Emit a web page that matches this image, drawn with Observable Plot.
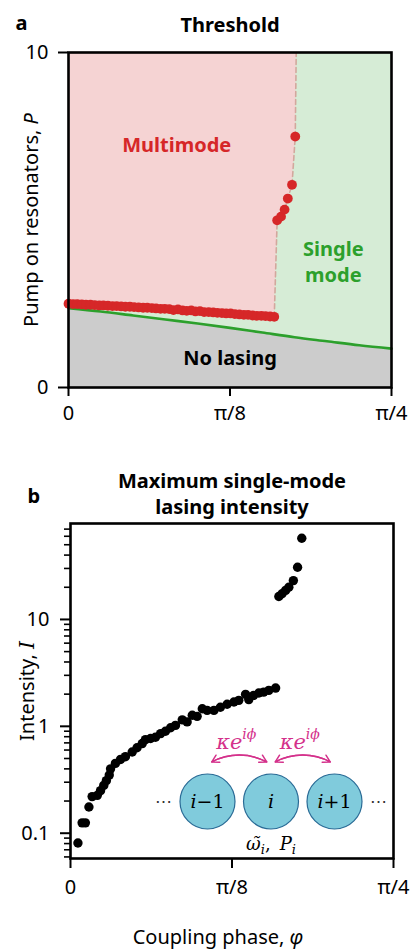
<!DOCTYPE html>
<html><head><meta charset="utf-8">
<script src="https://cdn.jsdelivr.net/npm/d3@7"></script>
<script src="https://cdn.jsdelivr.net/npm/@observablehq/plot@0.6"></script>
<style>
html,body{margin:0;padding:0;background:#fff;overflow:hidden;}
#wrap{position:relative;width:414px;height:950px;overflow:hidden;}
.abs{position:absolute;left:0;top:0;}
</style></head><body>
<div id="wrap">
  <div id="top" class="abs"></div>
  <div id="bottom" class="abs" style="top:450px"></div>
  <div id="inset" class="abs" style="left:140px;top:720px"></div>
</div>
<script>
// ---- Data (φ is expressed in units of π/4) ----
const xTickValues = [0, 0.5, 1];
const xTickLabels = ["0", "π/8", "π/4"];
const topYTicks = [0, 10];
const bottomYTicks = [0.1, 1, 10];
const bottomYTickLabels = ["0.1", "1", "10"];
const minorYTicks = [0.06, 0.07, 0.08, 0.09, 0.2, 0.3, 0.4, 0.5, 0.6, 0.7, 0.8, 0.9, 2, 3, 4, 5, 6, 7, 8, 9, 20, 30, 40, 50, 60, 70];

// lasing threshold (green line)
const thresholdPhi = [0, 0.1, 0.2, 0.3, 0.4, 0.5, 0.6, 0.7, 0.8, 0.9, 1.0];
const thresholdP   = [2.37, 2.27, 2.15, 2.03, 1.91, 1.78, 1.64, 1.50, 1.38, 1.26, 1.16];

// multimode threshold (red dots)
const multiPhi = [0.000,0.014,0.027,0.041,0.054,0.068,0.081,0.095,0.108,0.122,0.136,0.149,0.163,0.176,0.190,0.203,0.217,0.231,0.244,0.258,0.271,0.285,0.298,0.312,0.325,0.339,0.353,0.366,0.380,0.393,0.407,0.420,0.434,0.448,0.461,0.475,0.488,0.502,0.515,0.529,0.543,0.556,0.570,0.583,0.597,0.610,0.624,0.637,
                  0.646,0.658,0.669,0.679,0.692,0.702];
const multiP   = [2.50,2.49,2.49,2.48,2.47,2.47,2.46,2.45,2.45,2.44,2.43,2.43,2.42,2.41,2.41,2.40,2.39,2.38,2.38,2.37,2.36,2.35,2.35,2.34,2.31,2.33,2.30,2.29,2.30,2.27,2.28,2.25,2.25,2.24,2.23,2.22,2.21,2.21,2.19,2.18,2.17,2.17,2.15,2.14,2.14,2.13,2.12,2.11,
                  4.99,5.10,5.31,5.64,6.05,7.49];
// top end of the multimode / single-mode boundary
const boundaryTopPhi = 0.705;
const boundaryTopP = 10;

// maximum single-mode lasing intensity (black dots)
const intensityPhi = [0.023,0.036,0.046,0.057,0.067,0.083,0.093,0.103,0.111,0.120,0.124,0.139,0.155,0.170,0.191,0.206,0.222,0.232,0.248,0.263,0.279,0.294,0.310,0.325,0.346,0.361,0.377,0.392,0.408,0.423,0.444,0.464,0.485,0.506,0.521,0.542,0.552,0.567,0.583,0.598,0.614,0.635,
                      0.645,0.655,0.666,0.676,0.690,0.703,0.716];
const intensityI   = [0.081,0.125,0.125,0.176,0.22,0.226,0.25,0.28,0.31,0.35,0.40,0.45,0.49,0.52,0.575,0.63,0.69,0.75,0.77,0.79,0.855,0.90,0.97,1.02,1.15,1.10,1.27,1.24,1.46,1.41,1.41,1.51,1.61,1.69,1.75,1.99,1.78,1.95,2.05,2.09,2.17,2.28,
                      16.4,17.4,18.7,20.0,23.1,30.8,57.5];

// inset diagram
const resonators = ["i−1", "i", "i+1"];

// ---- tables built from the arrays ----
const threshold = thresholdPhi.map((p, i) => ({phi: p, P: thresholdP[i]}));
const multi = multiPhi.map((p, i) => ({phi: p, P: multiP[i]}));
const pinkEdge = [...multi, {phi: boundaryTopPhi, P: boundaryTopP}];
const lastLow = multiPhi.findIndex((p, i) => i > 0 && multiP[i] > multiP[i - 1] + 1) - 1;
const boundary = pinkEdge.slice(lastLow);
const intensity = intensityPhi.map((p, i) => ({phi: p, I: intensityI[i]}));
const couplings = resonators.slice(1).map((_, i) => ({from: i, to: i + 1}));

const PINK = "#f5d3d3", GREENBG = "#d6ecd6", GRAY = "#cccccc";
const RED = "#d62728", GREEN = "#2ca02c", MAGENTA = "#d4318b";
const font = '"Noto Sans", sans-serif';
const mathFont = '"DejaVu Serif", serif';

// rewrite plain texts into styled tspans (italics, sub/superscripts)
function rich(svg, matches, builder) {
  d3.select(svg).selectAll("text").each(function() {
    const t = d3.select(this);
    if (this.querySelector("tspan")) return;
    const s = this.textContent;
    if (!matches.includes(s)) return;
    t.text(null);
    builder(t, s);
  });
}

// ---- Panel a ----
const topPlot = Plot.plot({
  width: 414, height: 430,
  marginTop: 52, marginBottom: 43, marginLeft: 68, marginRight: 23,
  style: {fontFamily: font, fontSize: "20px", background: "transparent", overflow: "visible"},
  x: {domain: [0, 1]},
  y: {domain: [0, 10]},
  marks: [
    Plot.frame({fill: GREENBG}),
    Plot.areaY(threshold, {x: "phi", y: "P", fill: GRAY}),
    Plot.areaY(pinkEdge, {x: "phi", y1: "P", y2: boundaryTopP, fill: PINK}),
    Plot.line(boundary, {x: "phi", y: "P", stroke: "#d3a79d", strokeWidth: 1.6, strokeDasharray: "5,3"}),
    Plot.line(threshold, {x: "phi", y: "P", stroke: GREEN, strokeWidth: 2.6, curve: "monotone-x"}),
    Plot.dot(multi, {x: "phi", y: "P", r: 4.9, fill: RED}),
    Plot.text(["Multimode"], {x: 0.335, y: 7.22, text: d => d, fill: RED, fontWeight: "bold", fontSize: 20}),
    Plot.text(["Single\nmode"], {x: 0.82, y: 3.8, text: d => d, fill: GREEN, fontWeight: "bold", fontSize: 20, lineHeight: 1.3}),
    Plot.text(["No lasing"], {x: 0.5, y: 0.87, text: d => d, fill: "black", fontWeight: "bold", fontSize: 20}),
    Plot.frame({stroke: "black", strokeWidth: 2.6}),
    Plot.axisX({ticks: xTickValues, tickFormat: d => xTickLabels[xTickValues.indexOf(d)], tickSize: 9, tickPadding: 9, strokeWidth: 2, label: null, fontSize: 20}),
    Plot.axisY({ticks: topYTicks, tickFormat: d => String(d), tickSize: 10, tickPadding: 10, strokeWidth: 2, label: null, fontSize: 20}),
    Plot.text(["Threshold"], {frameAnchor: "top", dy: -21, lineAnchor: "bottom", text: d => d, fontWeight: "bold", fontSize: 20}),
    Plot.text(["a"], {frameAnchor: "top-left", dx: -53, dy: -23, lineAnchor: "bottom", textAnchor: "start", text: d => d, fontWeight: "bold", fontSize: 20}),
    Plot.text(["Pump on resonators, P"], {frameAnchor: "left", dx: -37, rotate: -90, textAnchor: "middle", lineAnchor: "middle", text: d => d, fontSize: 20})
  ]
});
rich(topPlot, ["Pump on resonators, P"], (t) => {
  t.append("tspan").text("Pump on resonators, ");
  t.append("tspan").attr("font-style", "italic").text("P");
});
document.getElementById("top").appendChild(topPlot);

// ---- Panel b ----
const bottomPlot = Plot.plot({
  width: 414, height: 500,
  marginTop: 73, marginBottom: 92, marginLeft: 70, marginRight: 21,
  style: {fontFamily: font, fontSize: "20px", background: "transparent", overflow: "visible"},
  x: {domain: [0, 1]},
  y: {type: "log", domain: [0.058, 79]},
  marks: [
    Plot.dot(intensity, {x: "phi", y: "I", r: 4.7, fill: "black"}),
    Plot.axisY({ticks: minorYTicks, tickFormat: () => "", tickSize: 6, strokeWidth: 1.6, label: null}),
    Plot.frame({stroke: "black", strokeWidth: 2.6}),
    Plot.axisX({ticks: xTickValues, tickFormat: d => xTickLabels[xTickValues.indexOf(d)], tickSize: 10, tickPadding: 11, strokeWidth: 2, label: null, fontSize: 20}),
    Plot.axisY({ticks: bottomYTicks, tickFormat: d => bottomYTickLabels[bottomYTicks.indexOf(d)], tickSize: 10, tickPadding: 11, strokeWidth: 2, label: null, fontSize: 20}),
    Plot.text(["Maximum single-mode\nlasing intensity"], {frameAnchor: "top", dy: -10, lineAnchor: "bottom", lineHeight: 1.3, text: d => d, fontWeight: "bold", fontSize: 20}),
    Plot.text(["b"], {frameAnchor: "top-left", dx: -43, dy: -21, lineAnchor: "bottom", textAnchor: "start", text: d => d, fontWeight: "bold", fontSize: 20}),
    Plot.text(["Intensity, I"], {frameAnchor: "left", dx: -43, rotate: -90, textAnchor: "middle", lineAnchor: "middle", text: d => d, fontSize: 20}),
    Plot.text(["Coupling phase, φ"], {frameAnchor: "bottom", dx: -14, dy: 79, lineAnchor: "middle", text: d => d, fontSize: 20})
  ]
});
rich(bottomPlot, ["Intensity, I"], (t) => {
  t.append("tspan").text("Intensity, ");
  t.append("tspan").attr("font-style", "italic").attr("font-family", mathFont).text("I");
});
rich(bottomPlot, ["Coupling phase, φ"], (t) => {
  t.append("tspan").text("Coupling phase, ");
  t.append("tspan").attr("font-style", "italic").text("φ");
});
document.getElementById("bottom").appendChild(bottomPlot);

// ---- Inset diagram ----
const insetPlot = Plot.plot({
  width: 260, height: 140, margin: 0,
  style: {fontFamily: mathFont, background: "transparent", overflow: "visible"},
  x: {domain: [-1, 3], range: [3.5, 257.5], axis: null},
  y: {domain: [0, 1], range: [81, 44], axis: null},
  marks: [
    Plot.dot(resonators, {x: (d, i) => i, y: () => 0, r: 27.5, fill: "#80cbdc", stroke: "#2a6b96", strokeWidth: 1.2}),
    Plot.text(resonators, {x: (d, i) => i, y: () => 0, text: d => d, fontSize: 19}),
    Plot.text(["⋯", "⋯"], {x: (d, i) => i === 0 ? -0.7 : resonators.length - 0.3, y: () => 0, text: d => d, fontSize: 17, fill: "#333"}),
    Plot.arrow(couplings, {x1: "from", x2: "to", y1: () => 1, y2: () => 1, bend: 33, insetStart: 5, insetEnd: 5, headLength: 8, stroke: MAGENTA, strokeWidth: 1.5}),
    Plot.arrow(couplings, {x1: "to", x2: "from", y1: () => 1, y2: () => 1, bend: -33, insetStart: 5, insetEnd: 5, headLength: 8, stroke: MAGENTA, strokeWidth: 1.5}),
    Plot.text(couplings, {x: d => (d.from + d.to) / 2, y: () => 1, dy: -22, dx: -3, text: () => "κe^iϕ", fill: MAGENTA, fontSize: 21}),
    Plot.text(["ω_i, P_i"], {x: () => 1, y: () => 0, dy: 43, text: d => d, fontSize: 18})
  ]
});
rich(insetPlot, resonators, (t, s) => {
  t.append("tspan").attr("font-style", "italic").text("i");
  if (s.length > 1) t.append("tspan").text(s.slice(1));
});
rich(insetPlot, ["κe^iϕ"], (t) => {
  t.append("tspan").attr("font-style", "italic").text("κe");
  t.append("tspan").attr("font-style", "italic").attr("font-size", "14px").attr("dy", "-10px").text("iϕ");
});
rich(insetPlot, ["ω_i, P_i"], (t) => {
  t.append("tspan").attr("font-style", "italic").text("ω\u0303");
  t.append("tspan").attr("font-style", "italic").attr("font-size", "13px").attr("dy", "4px").text("i");
  t.append("tspan").attr("dy", "-4px").text(",\u2002");
  t.append("tspan").attr("font-style", "italic").text("P");
  t.append("tspan").attr("font-style", "italic").attr("font-size", "13px").attr("dy", "4px").text("i");
});
document.getElementById("inset").appendChild(insetPlot);
</script>
</body></html>
